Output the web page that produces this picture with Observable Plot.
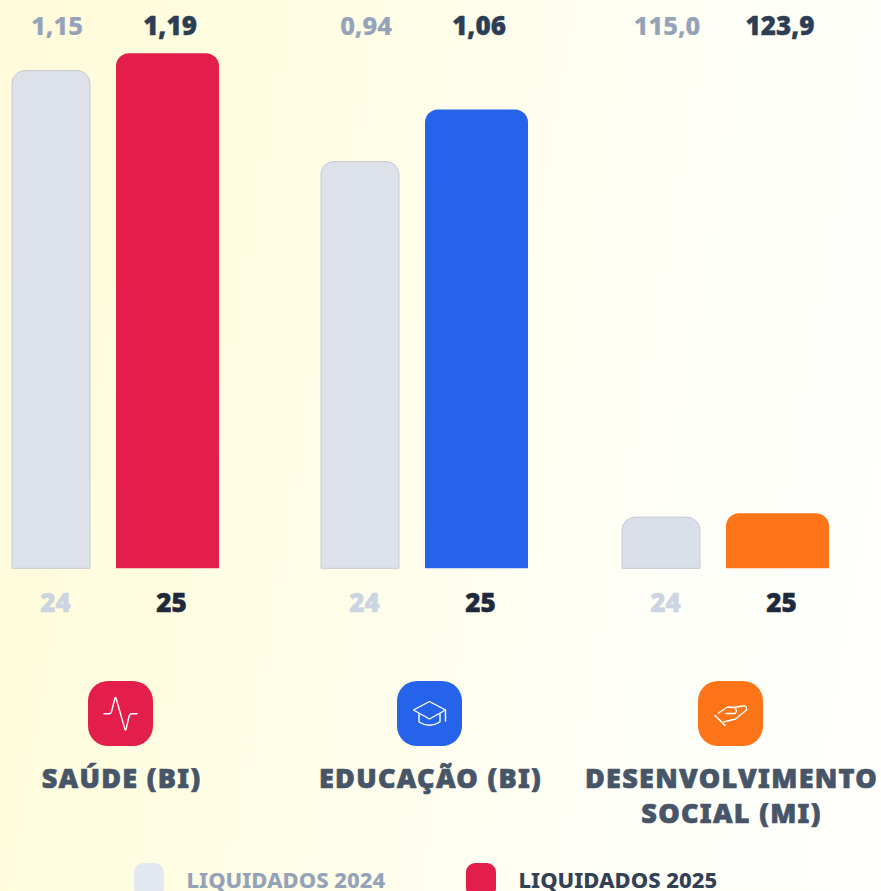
<!DOCTYPE html>
<html><head><meta charset="utf-8">
<script src="https://cdn.jsdelivr.net/npm/d3@7"></script>
<script src="https://cdn.jsdelivr.net/npm/@observablehq/plot@0.6"></script>
<style>
html,body{margin:0;padding:0;width:881px;height:891px;overflow:hidden;
background:linear-gradient(100deg,#fffbdb 0%,#fffde1 28%,#fffeec 50%,#fffffa 76%,#fffffb 100%);}
svg{display:block;background:transparent!important}
</style></head><body><div id="chart"></div>
<script>
// ---- data ----
const categories = ["SAÚDE (BI)", "EDUCAÇÃO (BI)", "DESENVOLVIMENTO SOCIAL (MI)"];
const titleLines = [["SAÚDE (BI)"], ["EDUCAÇÃO (BI)"], ["DESENVOLVIMENTO", "SOCIAL (MI)"]];
const values2024 = [1.15, 0.94, 115.0];
const values2025 = [1.19, 1.06, 123.9];
const labels2024 = ["1,15", "0,94", "115,0"];
const labels2025 = ["1,19", "1,06", "123,9"];
const yearLabels = ["24", "25"];
const legendLabels = ["LIQUIDADOS 2024", "LIQUIDADOS 2025"];
const groupColors = ["#e31e4a", "#2563eb", "#fd7518"];
// the social column is in millions, drawn on the same axis as billions
const unitDivisor = [1, 1, 973];

// ---- layout ----
const W = 881, H = 891, base = 568.3, pxPerUnit = 432.8;
const groupLeft = [12, 321, 622];
const w24 = 78, gap = 26, w25 = 103;
const font = "'Noto Sans', sans-serif";

const bars = categories.flatMap((c, i) => [
  {c, i, x1: groupLeft[i], x2: groupLeft[i] + w24, v: values2024[i] / unitDivisor[i]},
  {c, i, x1: groupLeft[i] + w24 + gap, x2: groupLeft[i] + w24 + gap + w25, v: values2025[i] / unitDivisor[i]}
]);
const b24 = bars.filter((d, k) => k % 2 === 0);
const b25 = bars.filter((d, k) => k % 2 === 1);

const text = (rows, o) => Plot.text(rows, {frameAnchor: "top", lineAnchor: "middle", fontFamily: font, textAnchor: "middle", ...o});
const x24 = i => groupLeft[i] + 43, x25 = i => groupLeft[i] + w24 + gap + 55;
const cx = i => groupLeft[i] + 108.5;
const idx = categories.map((c, i) => i);

const titleRows = titleLines.flatMap((ls, i) => ls.map((t, k) => ({t, i, k})));
const firstLines = titleRows.filter(d => d.k === 0);
const secondLines = titleRows.filter(d => d.k === 1);

const iconPaths = [
  ["M-16.5,0.2H-11.5Q-9.5,0.2 -8.8,-2.5L-5.5,-15.5Q-5,-16.5 -4.5,-15.5L4.5,16Q5,17 5.5,16L8.5,3Q9.2,0.2 11.5,0.2H16.5"],
  ["M-16,-3.5L0,-12L16,-3.5L0,5.5Z", "M-10.5,0.5V8.5Q0,15 10.5,8.5V0.5", "M16,-3.5V7.5"],
  ["M-15.5,2L-5.5,12", "M-12,-0.5L-3,-6.5L3.5,-6L12,-7.5Q16.5,-8.5 16,-3.5L5,5.5L-7,8.5", "M-4.5,0H4.5Q7.5,-3 4,-6.2"]
];
const iconMark = (_, {x}) => {
  const g = d3.create("svg:g");
  iconPaths.forEach((ps, i) => {
    const c = g.append("g").attr("transform", `translate(${x(cx(i))},713.5)`);
    c.append("rect").attr("x", -32.5).attr("y", -32.5).attr("width", 65).attr("height", 65).attr("rx", 20).attr("fill", groupColors[i]);
    ps.forEach(p => c.append("path").attr("d", p).attr("fill", "none").attr("stroke", "#fff").attr("stroke-width", 1.4).attr("stroke-linecap", "round").attr("stroke-linejoin", "round"));
  });
  return g.node();
};

const legendRows = legendLabels.map((t, k) => ({t, k}));
const legendFill = ["#e2e8f0", "#e31e4a"];
const legendTextFill = ["#94a3b8", "#334155"];
const legendX = [134, 466];
const legendMark = (_, {x}) => {
  const g = d3.create("svg:g");
  legendRows.forEach(({k}) => g.append("rect").attr("x", x(legendX[k])).attr("y", 863).attr("width", 30).attr("height", 34).attr("rx", 9).attr("fill", legendFill[k]));
  return g.node();
};

const heavy = (fill, w) => ({fill, stroke: fill, strokeWidth: w});

const plot = Plot.plot({
  width: W, height: H, margin: 0,
  style: {background: "transparent"},
  x: {domain: [0, W], range: [0, W], axis: null},
  y: {domain: [(base - H) / pxPerUnit, base / pxPerUnit], range: [H, 0], axis: null},
  marks: [
    Plot.rect(b24, {x1: "x1", x2: "x2", y1: 0, y2: "v", fill: d => d.i === 2 ? "#d9e0e9" : "#dce1ea", stroke: "#c6cad0", strokeWidth: 1, rx1y2: 13, rx2y2: 13}),
    Plot.rect(b25, {x1: "x1", x2: "x2", y1: 0, y2: "v", fill: d => groupColors[d.i], rx1y2: 13, rx2y2: 13}),
    text(idx, {x: i => groupLeft[i] + 44.5, text: i => labels2024[i], dy: 26, fontSize: 25.5, fontWeight: 800, ...heavy("#94a3b8", 0.2)}),
    text(idx, {x: i => groupLeft[i] + w24 + gap + 53.5, text: i => labels2025[i], dy: 26, fontSize: 26, fontWeight: 900, ...heavy("#2c3e55", 0.4)}),
    text(idx, {x: x24, text: () => yearLabels[0], dy: 603, fontSize: 26, fontWeight: 900, ...heavy("#cbd5e1", 0.5)}),
    text(idx, {x: x25, text: () => yearLabels[1], dy: 603, fontSize: 26, fontWeight: 900, ...heavy("#1e293b", 0.5)}),
    iconMark,
    text(firstLines, {x: d => cx(d.i) + .5, text: "t", dy: 779, fontSize: 27, fontWeight: 900, ...heavy("#475569", 0.7)}),
    text(secondLines, {x: d => cx(d.i) + .5, text: "t", dy: 814, fontSize: 27, fontWeight: 900, ...heavy("#475569", 0.7)}),
    legendMark,
    text(legendRows, {x: d => [186, 518][d.k], text: "t", textAnchor: "start", dy: 880, fontSize: 22, fontWeight: 800, fill: d => legendTextFill[d.k]})
  ]
});
// titles are letter-spaced in the original
const textGroups = plot.querySelectorAll('g[aria-label="text"]');
[textGroups[4], textGroups[5]].forEach(g => g.style.letterSpacing = "1.3px");
document.getElementById("chart").append(plot);
</script></body></html>
